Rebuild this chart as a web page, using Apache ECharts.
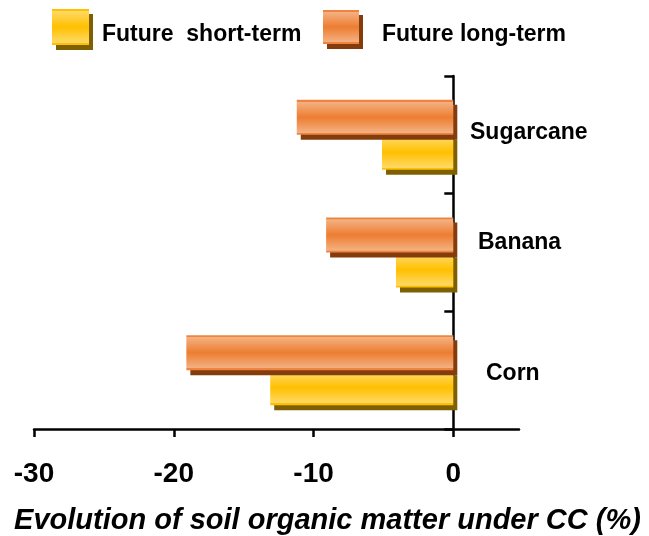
<!DOCTYPE html>
<html>
<head>
<meta charset="utf-8">
<script src="https://cdn.jsdelivr.net/npm/echarts@6/dist/echarts.min.js"></script>
<style>html,body{margin:0;padding:0;background:#fff}#c{width:649px;height:536px}</style>
</head>
<body>
<div id="c"></div>
<script>
var categories = ['Corn', 'Banana', 'Sugarcane'];
var shortTerm = [-13.1, -4.1, -5.1];
var longTerm = [-19.1, -9.1, -11.2];
var xTicks = [-30, -20, -10, 0];
var seriesNames = ['Future  short-term', 'Future long-term'];

var FONT = "'Liberation Sans', Arial, sans-serif";

function vgrad(border, edge, mid) {
  return new echarts.graphic.LinearGradient(0, 0, 0, 1, [
    {offset: 0, color: border}, {offset: 0.05, color: border},
    {offset: 0.06, color: edge}, {offset: 0.5, color: mid},
    {offset: 0.94, color: edge}, {offset: 0.95, color: border}, {offset: 1, color: border}
  ]);
}
var yellowStyle = {
  color: vgrad('#FFC000', '#FFD966', '#FFC000'),
  borderWidth: 0,
  shadowColor: '#7F6000', shadowBlur: 0, shadowOffsetX: 4, shadowOffsetY: 5
};
var orangeStyle = {
  color: vgrad('#EE8440', '#F4B183', '#ED7D31'),
  borderWidth: 0,
  shadowColor: '#843C0C', shadowBlur: 0, shadowOffsetX: 4, shadowOffsetY: 5
};

var labelRich = {
  Sugarcane: {fontSize: 23, fontWeight: 'bold', fontFamily: FONT, color: '#000', padding: [0, 0, 4, 0]},
  Banana: {fontSize: 23, fontWeight: 'bold', fontFamily: FONT, color: '#000', padding: [0, 0, 20, 8]},
  Corn: {fontSize: 23, fontWeight: 'bold', fontFamily: FONT, color: '#000', padding: [6, 0, 0, 16]}
};

function legendText(padLeft) {
  return {
    fontSize: 23, fontWeight: 'bold', fontFamily: FONT, color: '#000',
    rich: {t: {fontSize: 23, fontWeight: 'bold', fontFamily: FONT, color: '#000', padding: [16, 0, 0, padLeft]}}
  };
}

var chart = echarts.init(document.getElementById('c'), null, {renderer: 'canvas'});
chart.setOption({
  animation: false,
  backgroundColor: '#fff',
  legend: [
    {
      left: 52, top: 9, padding: 0, itemWidth: 37, itemHeight: 36, icon: 'rect',
      data: [{name: seriesNames[0], itemStyle: yellowStyle}],
      formatter: '{t|{name}}',
      textStyle: legendText(8)
    },
    {
      left: 323, top: 10, padding: 0, itemWidth: 36, itemHeight: 34, icon: 'rect',
      data: [{name: seriesNames[1], itemStyle: orangeStyle}],
      formatter: '{t|{name}}',
      textStyle: legendText(18)
    }
  ],
  grid: {left: 34, right: 130, top: 76, bottom: 107, containLabel: false, outerBoundsMode: 'none'},
  xAxis: {
    type: 'value', min: -30, max: 4.7, interval: 10,
    splitLine: {show: false},
    axisLine: {show: true, lineStyle: {color: '#000', width: 2.5}},
    axisTick: {show: true, length: 8, lineStyle: {color: '#000', width: 2.5}, customValues: xTicks},
    axisLabel: {customValues: xTicks, fontSize: 28, fontWeight: 'bold', fontFamily: FONT, color: '#000', margin: 31, lineHeight: 28},
    name: 'Evolution of soil organic matter under CC (%)',
    nameLocation: 'middle', nameGap: 77,
    nameTextStyle: {fontSize: 29, fontWeight: 'bold', fontStyle: 'italic', fontFamily: FONT, color: '#000', lineHeight: 29, padding: [0, 0, 0, 102]}
  },
  yAxis: {
    type: 'category', data: categories, position: 'left',
    axisLine: {show: true, onZero: true, lineStyle: {color: '#000', width: 2.5}},
    axisTick: {show: true, length: 9, lineStyle: {color: '#000', width: 2.5}},
    axisLabel: {
      inside: true, margin: 436, align: 'left',
      formatter: function (v) { return '{' + v + '|' + v + '}'; },
      rich: labelRich
    },
    splitLine: {show: false}
  },
  series: [
    {name: seriesNames[1], type: 'bar', data: longTerm, barWidth: 35, barGap: '0%', itemStyle: orangeStyle, z: 3},
    {name: seriesNames[0], type: 'bar', data: shortTerm, barWidth: 35, barGap: '0%', itemStyle: yellowStyle, z: 2}
  ]
});
</script>
</body>
</html>
